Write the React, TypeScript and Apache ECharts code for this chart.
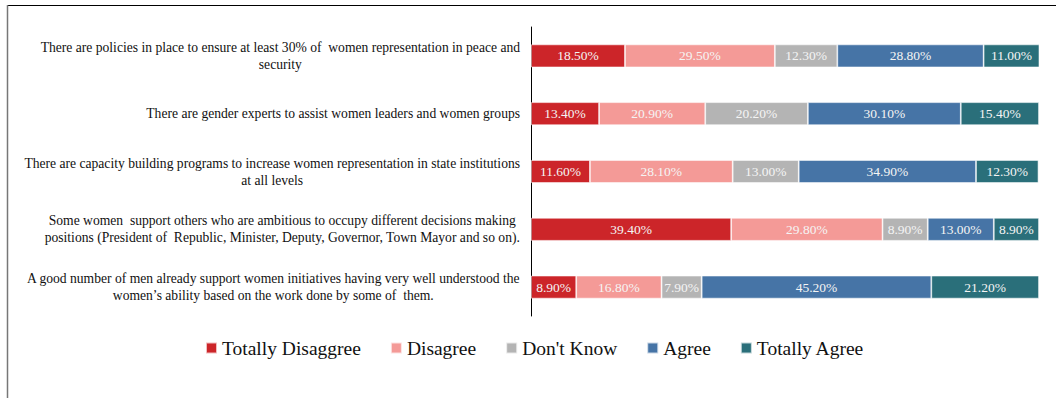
import React, { useEffect, useRef } from "react";
import * as echarts from "echarts";

const categories = [
  "There are policies in place to ensure at least 30% of  women representation in peace and\nsecurity",
  "There are gender experts to assist women leaders and women groups",
  "There are capacity building programs to increase women representation in state institutions\nat all levels",
  "Some women  support others who are ambitious to occupy different decisions making\npositions (President of  Republic, Minister, Deputy, Governor, Town Mayor and so on).",
  "A good number of men already support women initiatives having very well understood the\nwomen\u2019s ability based on the work done by some of  them.",
];

const seriesNames = ["Totally Disaggree", "Disagree", "Don't Know", "Agree", "Totally Agree"];
const totallyDisagree = [18.5, 13.4, 11.6, 39.4, 8.9];
const disagree = [29.5, 20.9, 28.1, 29.8, 16.8];
const dontKnow = [12.3, 20.2, 13.0, 8.9, 7.9];
const agree = [28.8, 30.1, 34.9, 13.0, 45.2];
const totallyAgree = [11.0, 15.4, 12.3, 8.9, 21.2];
const seriesColors = ["#CC2529", "#F49A97", "#B4B4B4", "#4674A6", "#2A6F7A"];

const FONT = "Liberation Serif";

export default function App() {
  const ref = useRef<HTMLDivElement>(null);
  useEffect(() => {
    document.body.style.margin = "0";
    if (!ref.current) return;
    const chart = echarts.init(ref.current, undefined, { renderer: "svg" });
    const values = [totallyDisagree, disagree, dontKnow, agree, totallyAgree];
    chart.setOption({
      animation: false,
      textStyle: { fontFamily: FONT },
      grid: { left: 531, right: 17, top: 27, bottom: 82, containLabel: false },
      xAxis: {
        type: "value",
        min: 0,
        max: 100,
        show: false,
      },
      yAxis: {
        type: "category",
        inverse: true,
        data: categories,
        axisLine: { show: true, lineStyle: { color: "#000", width: 1 } },
        axisTick: { show: false },
        splitLine: { show: false },
        axisLabel: {
          margin: 11,
          align: "right",
          fontFamily: FONT,
          formatter: (v: string) =>
            v
              .split("\n")
              .map((l) => "{c|" + l + "}")
              .join("\n"),
          rich: {
            c: {
              align: "center",
              fontSize: 13.6,
              lineHeight: 17,
              fontFamily: FONT,
              color: "#111",
            },
          },
        },
      },
      legend: {
        left: 200,
        top: 333,
        itemWidth: 11,
        itemHeight: 11,
        itemGap: 29,
        icon: "rect",
        textStyle: { fontFamily: FONT, fontSize: 19.5, color: "#111" },
        data: seriesNames,
      },
      series: seriesNames.map((name, i) => ({
        name,
        type: "bar",
        stack: "total",
        barWidth: 23,
        data: values[i],
        itemStyle: {
          color: seriesColors[i],
          borderColor: "rgba(255,255,255,0.7)",
          borderWidth: 0.8,
        },
        label: {
          show: true,
          position: "inside",
          formatter: (p: any) => Number(p.value).toFixed(2) + "%",
          fontFamily: FONT,
          fontSize: 13.5,
          color: "#F4F4F4",
        },
      })),
      graphic: [
        {
          type: "line",
          shape: { x1: 7, y1: 5.5, x2: 1056, y2: 5.5 },
          style: { stroke: "#000", lineWidth: 1.2 },
        },
        {
          type: "line",
          shape: { x1: 7.5, y1: 5, x2: 7.5, y2: 398 },
          style: { stroke: "#777", lineWidth: 1.5 },
        },
      ],
    });
    return () => chart.dispose();
  }, []);
  return <div ref={ref} style={{ width: 1056, height: 398 }} />;
}
